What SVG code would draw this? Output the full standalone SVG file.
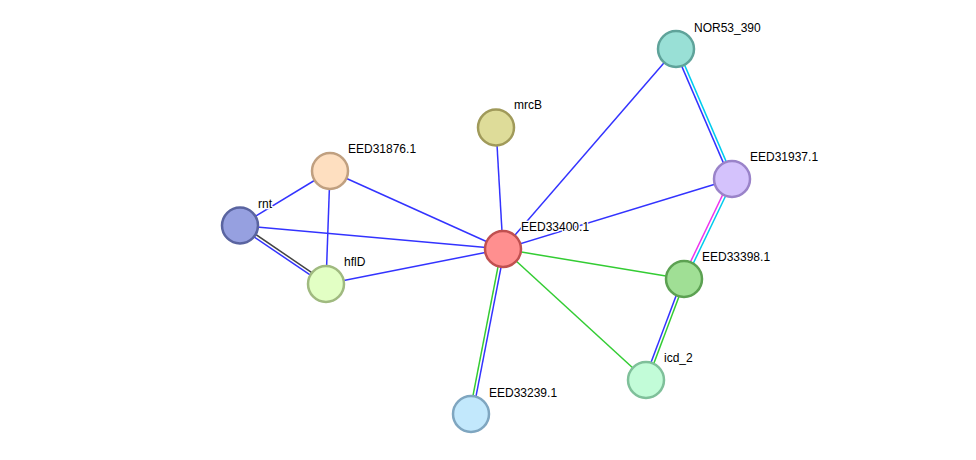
<svg xmlns="http://www.w3.org/2000/svg" width="976" height="460" viewBox="0 0 976 460">
<style>
.e{stroke-width:1.5;fill:none}
.b{stroke:#3333ff}.g{stroke:#33cc33}.c{stroke:#00ccee}.m{stroke:#ee33ee}.k{stroke:#444444}
.n{stroke-width:2.5}
.t{font-family:"Liberation Sans",Arial,sans-serif;font-size:12px;fill:#000;stroke:#fff;stroke-width:2.5;paint-order:stroke;stroke-linejoin:round}
</style>
<rect width="976" height="460" fill="#fff"/>
<g id="edges">
<line class="e b" x1="503" y1="249" x2="676" y2="49"/>
<line class="e b" x1="503" y1="249" x2="496" y2="127.5"/>
<line class="e b" x1="503" y1="249" x2="330" y2="171"/>
<line class="e b" x1="503" y1="249" x2="240" y2="225.5"/>
<line class="e b" x1="503" y1="249" x2="326" y2="284"/>
<line class="e b" x1="503" y1="249" x2="732" y2="179"/>
<line class="e g" x1="503" y1="249" x2="684" y2="279"/>
<line class="e g" x1="503" y1="249" x2="646" y2="380"/>
<line class="e g" x1="501.5" y1="248.7" x2="469.5" y2="413.7"/>
<line class="e b" x1="504.5" y1="249.3" x2="472.5" y2="414.3"/>
<line class="e b" x1="674.6" y1="49.6" x2="730.6" y2="179.6"/>
<line class="e c" x1="677.4" y1="48.4" x2="733.4" y2="178.4"/>
<line class="e m" x1="730.6" y1="178.3" x2="682.6" y2="278.3"/>
<line class="e c" x1="733.4" y1="179.7" x2="685.4" y2="279.7"/>
<line class="e b" x1="682.6" y1="278.5" x2="644.6" y2="379.5"/>
<line class="e g" x1="685.4" y1="279.5" x2="647.4" y2="380.5"/>
<line class="e b" x1="240" y1="225.5" x2="330" y2="171"/>
<line class="e b" x1="330" y1="171" x2="326" y2="284"/>
<line class="e b" x1="239.2" y1="226.8" x2="325.2" y2="285.2"/>
<line class="e k" x1="240.8" y1="224.3" x2="326.8" y2="282.8"/>
</g>
<g id="NOR53_390"><circle class="n" cx="676" cy="49" r="18" fill="#99e0d6" stroke="#5fa39a"/><text class="t" x="694" y="32">NOR53_390</text></g>
<g id="mrcB"><circle class="n" cx="496" cy="127.5" r="18" fill="#dedc99" stroke="#a09a5a"/><text class="t" x="514" y="109">mrcB</text></g>
<g id="EED31876.1"><circle class="n" cx="330" cy="171" r="18" fill="#fedfc0" stroke="#c0a080"/><text class="t" x="348" y="153">EED31876.1</text></g>
<g id="EED31937.1"><circle class="n" cx="732" cy="179" r="18" fill="#d4c2fc" stroke="#9a83c9"/><text class="t" x="750" y="161">EED31937.1</text></g>
<g id="rnt"><circle class="n" cx="240" cy="225.5" r="18" fill="#96a0e0" stroke="#5a64a0"/><text class="t" x="258" y="208">rnt</text></g>
<g id="EED33400.1"><circle class="n" cx="503" cy="249" r="18" fill="#ff8f8f" stroke="#c05050"/><text class="t" x="521" y="231">EED33400.1</text></g>
<g id="EED33398.1"><circle class="n" cx="684" cy="279" r="18" fill="#a0df95" stroke="#5ca152"/><text class="t" x="702" y="261">EED33398.1</text></g>
<g id="hflD"><circle class="n" cx="326" cy="284" r="18" fill="#e2ffc4" stroke="#a0ba80"/><text class="t" x="344" y="266">hflD</text></g>
<g id="icd_2"><circle class="n" cx="646" cy="380" r="18" fill="#c2fcd8" stroke="#7fc09a"/><text class="t" x="664" y="362">icd_2</text></g>
<g id="EED33239.1"><circle class="n" cx="471" cy="414" r="18" fill="#c2e8fc" stroke="#7fa6c0"/><text class="t" x="489" y="397">EED33239.1</text></g>
</svg>
